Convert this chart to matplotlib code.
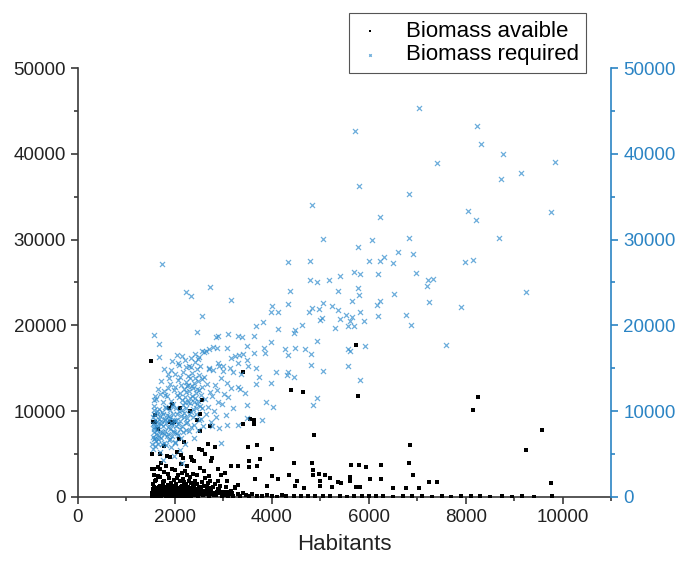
import matplotlib.pyplot as plt
from matplotlib.ticker import MultipleLocator

plt.rcParams['font.family'] = ['Liberation Sans', 'DejaVu Sans']

# (habitants, biomass) pairs
avail_pts = [
    (1510, 15800), (5740, 17700), (3400, 14500), (4390, 12400), (4650, 12200),
    (5770, 11700), (8250, 11600), (8150, 10100), (9570, 7800), (4860, 7200),
    (9240, 5500), (6840, 6000), (6830, 3900), (9750, 1600), (6920, 2600),
    (7030, 1000), (7240, 1700), (7410, 1750), (6770, 1000), (6490, 1000),
    (6260, 3700), (6260, 2100), (6020, 2100), (5790, 3700), (5950, 3500),
    (5630, 3700), (5610, 2300), (5610, 1900), (5740, 1200), (5820, 1200),
    (5360, 1700), (5420, 1650), (5250, 1200), (5200, 2250), (5100, 2500),
    (4970, 2700), (4990, 1900), (5000, 1250), (4840, 3100), (4820, 4000),
    (4840, 2500), (4670, 1000), (4510, 1900), (4480, 1250), (4450, 4000),
    (4350, 2600), (4130, 2100), (4010, 2400), (4000, 5600), (3900, 1250),
    (3750, 4400), (3700, 6000), (3700, 3600), (3660, 2100), (3640, 8900),
    (3550, 9100), (3640, 8500), (3410, 8500), (3510, 5800), (3530, 4200),
    (3520, 3500), (3310, 3600), (3160, 3600), (3030, 2800), (2960, 2500),
    (3070, 1900), (3300, 1400), (3250, 1200), (2880, 1900), (2760, 4500),
    (2750, 4200), (2820, 5800), (2690, 6200), (2730, 8200), (2560, 11250),
    (2520, 9700), (2520, 7700), (2450, 9000), (2310, 10000), (2110, 10400),
    (1870, 10400), (1950, 10800), (1600, 9500), (1550, 8750), (1600, 8750),
    (1910, 8750), (1980, 8700), (1940, 8600), (1660, 7900), (2080, 6700),
    (2180, 6400), (1770, 5900), (2040, 5200), (2120, 4900), (2160, 4500),
    (2340, 4700), (2400, 4200), (2500, 5600), (2560, 5400), (2620, 5000),
    (1530, 5000), (1690, 5000), (1830, 4800), (1520, 3300), (1580, 3300),
    (1650, 3500), (1720, 3900),
    (1520, 100), (1530, 400), (1540, 900), (1550, 1500), (1560, 200),
    (1570, 700), (1580, 1200), (1590, 50), (1600, 1800), (1610, 300),
    (1620, 600), (1630, 1000), (1640, 150), (1650, 2400), (1660, 500),
    (1670, 800), (1680, 250), (1690, 1300), (1700, 3300), (1710, 100),
    (1720, 650), (1730, 950), (1740, 400), (1750, 1700), (1760, 200),
    (1770, 2900), (1780, 700), (1790, 350), (1800, 1100), (1810, 3600),
    (1820, 50), (1830, 850), (1840, 450), (1850, 1400), (1860, 150),
    (1870, 2200), (1880, 600), (1890, 300), (1900, 900), (1910, 4600),
    (1920, 200), (1930, 1600), (1940, 750), (1950, 400), (1960, 1200),
    (1970, 100), (1980, 2000), (1990, 550), (2000, 3100), (2010, 250),
    (2020, 800), (2030, 1500), (2040, 50), (2050, 1000), (2060, 350),
    (2070, 2600), (2080, 700), (2090, 150), (2100, 1900), (2110, 450),
    (2120, 3800), (2130, 900), (2140, 250), (2150, 1300), (2160, 600),
    (2170, 2100), (2180, 100), (2190, 1700), (2200, 500), (2210, 3000),
    (2220, 800), (2230, 200), (2240, 1400), (2250, 2500), (2260, 650),
    (2270, 50), (2280, 1100), (2290, 1800), (2300, 350), (2310, 2300),
    (2320, 900), (2330, 150), (2340, 1600), (2350, 4300), (2360, 500),
    (2370, 1200), (2380, 2700), (2390, 250), (2400, 800), (2420, 1900),
    (2440, 400), (2460, 1500), (2480, 100), (2500, 1000), (2520, 3400),
    (2540, 600), (2560, 1700), (2580, 200), (2600, 1300), (2620, 2200),
    (2640, 450), (2660, 900), (2680, 1600), (2700, 100), (2720, 1900),
    (2740, 700), (2760, 300), (2780, 1200), (2800, 500), (2820, 1500),
    (2850, 200), (2880, 900), (2910, 400), (2940, 1300), (2970, 100),
    (3000, 600), (3030, 250), (3060, 1100), (3100, 50), (3130, 350),
    (3160, 700), (3200, 150), (3250, 1000), (3300, 300), (3350, 100),
    (3400, 450), (3460, 200), (3520, 80), (3600, 300), (3700, 150),
    (3800, 60), (3900, 250), (4000, 100), (4100, 30), (4200, 200),
    (4300, 80), (4450, 150), (4600, 50), (4750, 100), (4900, 40),
    (5050, 120), (5200, 60), (5400, 100), (5550, 30), (5700, 80),
    (5850, 50), (6000, 100), (6150, 40), (6300, 70), (6500, 30),
    (6700, 60), (6900, 40), (7100, 80), (7300, 30), (7500, 50),
    (7700, 20), (7900, 100), (8100, 40), (8300, 120), (8500, 30),
    (8750, 150), (8950, 30), (9150, 60), (9400, 20), (9780, 60),
    (1540, 300), (1560, 600), (1580, 150), (1600, 900), (1620, 400),
    (1640, 700), (1660, 100), (1680, 1100), (1700, 500), (1720, 200),
    (1740, 800), (1760, 1300), (1780, 300), (1800, 600), (1820, 1000),
    (1840, 200), (1860, 700), (1880, 1200), (1900, 400), (1920, 800),
    (1940, 100), (1960, 500), (1980, 1300), (2000, 250), (2020, 1100),
    (2040, 600), (2060, 900), (2080, 200), (2100, 500), (2120, 1200),
    (2140, 700), (2160, 100), (2180, 1000), (2200, 1500), (2220, 350),
    (2240, 650), (2260, 1200), (2280, 300), (2300, 900), (2320, 500),
    (2340, 100), (2360, 1000), (2380, 600), (2400, 1400), (2420, 200),
    (2440, 900), (2460, 550), (2500, 300), (2540, 1200), (2580, 700),
    (2620, 300), (2660, 1100), (2700, 600), (2750, 1000), (2800, 200),
    (2860, 600), (2920, 900), (2990, 300), (3080, 600), (3180, 400),
    (1560, 2600), (1620, 2000), (1700, 2300), (1780, 1900), (1850, 2700),
    (1950, 3200), (2050, 2200), (2150, 2800), (2250, 3600), (2450, 2600),
    (2600, 3000), (2700, 2400), (2900, 3200),
]

required_pts = [
    (7030, 45300), (5720, 42600), (8240, 43200), (8310, 41100), (8770, 40000),
    (7410, 38900), (9830, 39000), (9140, 37700), (8720, 37100), (5790, 36250),
    (6830, 35250), (4830, 34000), (8040, 33300), (9750, 33200), (8200, 32300),
    (6240, 32600), (5050, 30100), (6060, 30000), (6830, 30200), (8690, 30200),
    (5770, 29100), (6910, 28300), (6610, 28500), (6310, 28000), (6240, 27500),
    (6000, 27500), (6490, 27300), (4340, 27400), (4790, 27500), (7990, 27400),
    (8150, 27600), (1740, 27100), (6980, 26100), (5700, 26200), (5820, 25950),
    (6180, 26000), (5410, 25700), (5170, 25300), (4780, 25300), (4940, 25100),
    (7210, 25300), (7330, 25400), (7190, 24600), (2730, 24500), (5770, 24300),
    (9250, 23900), (2240, 23900), (2340, 23400), (5360, 24000), (4380, 24000),
    (5790, 23500), (6520, 23600), (3150, 23000), (7240, 22700), (5660, 22800),
    (5060, 22600), (4340, 22500), (6230, 22800), (6170, 22400), (4000, 22200),
    (4820, 22000), (5250, 22200), (5370, 21750), (7900, 22100), (4970, 21900),
    (3990, 21500), (4120, 21500), (5810, 21500), (4770, 21500), (6180, 21100),
    (6770, 21250), (2550, 21100), (5530, 21250), (5660, 21000), (5400, 20700),
    (5030, 20800), (4990, 20600), (5620, 20500), (5910, 20500), (3820, 20400),
    (4630, 20000), (6860, 20000), (3680, 19900), (5310, 19700), (5570, 19900),
    (5690, 19900), (4130, 19600), (4480, 19400), (4460, 19100), (2450, 19200),
    (1580, 18900), (2850, 18600), (2900, 18750), (3090, 18950), (3310, 18800),
    (3630, 18750), (3390, 18600), (4940, 18200), (3990, 18000), (1680, 17800),
    (7600, 17700), (5920, 17600), (3480, 17600), (2790, 17500), (3080, 17300),
    (3840, 17400), (4270, 17200), (4480, 17400), (4690, 17200), (5560, 17200),
    (5610, 16950), (2560, 16950), (3640, 16800), (3850, 16800), (3320, 16500),
    (4330, 16500), (4800, 16600), (1680, 16250), (2140, 16400), (3240, 16400),
    (2500, 16300), (3490, 16000), (4810, 15400), (2070, 15600), (2300, 15200),
    (3500, 15200), (5570, 15200), (3680, 15000), (5050, 14700), (1780, 14900),
    (2910, 15200), (2700, 14900), (4080, 14500), (4340, 14600), (4310, 14250),
    (4450, 14000), (3740, 14000), (3360, 14300), (3990, 13300), (5820, 13600),
    (3670, 13200), (3310, 12800), (3450, 12100), (4940, 11500), (4850, 10700),
    (4020, 10500), (3490, 10700), (3870, 11000), (3800, 9000), (3490, 9200),
    (3070, 8400), (3310, 8400), (2950, 6250),
    (1530, 6200), (1540, 7000), (1545, 8500), (1550, 5600), (1555, 9300),
    (1560, 10600), (1565, 7600), (1570, 6700), (1575, 11300), (1580, 8100),
    (1590, 5900), (1600, 9000), (1605, 7300), (1610, 6500), (1620, 11400),
    (1625, 8700), (1630, 9700), (1640, 7800), (1650, 6100), (1660, 8300),
    (1670, 10200), (1680, 7100), (1690, 9400), (1700, 12000), (1700, 5200),
    (1710, 8800), (1720, 6800), (1730, 9900), (1740, 7500), (1750, 11000),
    (1760, 8200), (1770, 6300), (1780, 12300), (1790, 9100), (1800, 7700),
    (1800, 10500), (1810, 8600), (1820, 6000), (1830, 11700), (1840, 9500),
    (1850, 7300), (1860, 12700), (1870, 8900), (1880, 6600), (1890, 10100),
    (1900, 7900), (1900, 13200), (1910, 9200), (1920, 5800), (1930, 11200),
    (1940, 8400), (1950, 7100), (1960, 10800), (1970, 9600), (1980, 12400),
    (1990, 7600), (2000, 8800), (2000, 14300), (2010, 6400), (2020, 10300),
    (2030, 9000), (2040, 11900), (2050, 7400), (2060, 13600), (2070, 8500),
    (2080, 10000), (2090, 15400), (2100, 12100), (2110, 7900), (2120, 9400),
    (2130, 13000), (2140, 11300), (2150, 8200), (2160, 14600), (2170, 10700),
    (2180, 12600), (2190, 9800), (2200, 15900), (2210, 11600), (2220, 8600),
    (2230, 13400), (2240, 10400), (2250, 12900), (2260, 9200), (2270, 14100),
    (2280, 11000), (2290, 7700), (2300, 12300), (2310, 10900), (2320, 13800),
    (2330, 15100), (2340, 9900), (2350, 11800), (2360, 14400), (2370, 12700),
    (2380, 10200), (2390, 13300), (2400, 8400), (2410, 15700), (2420, 11500),
    (2430, 12100), (2440, 9600), (2450, 14900), (2460, 10800), (2470, 13500),
    (2480, 11200), (2490, 8900), (2500, 12500), (2510, 10600), (2520, 15200),
    (2530, 9100), (2540, 11900), (2550, 13700), (2560, 10300), (2570, 12800),
    (2580, 8200), (2600, 14000), (2620, 11400), (2640, 9700), (2660, 13100),
    (2680, 10500), (2700, 15000), (2720, 12200), (2740, 8700), (2760, 11700),
    (2780, 14800), (2800, 10000), (2820, 13000), (2840, 9300), (2860, 12400),
    (2880, 15600), (2900, 11100), (2920, 8000), (2950, 13900), (2980, 10800),
    (3000, 14700), (3020, 12000), (3050, 9500), (3080, 13300), (3100, 11600),
    (3130, 15000), (3160, 12700), (3200, 10300), (2760, 8300), (2600, 16900),
    (2480, 16100), (2700, 17200), (2860, 17400), (3000, 15300), (3150, 16200),
    (1850, 14300), (1950, 15800), (2050, 16500), (2650, 17000), (3200, 14600),
    (3300, 15600), (3350, 12600), (3400, 16700), (2400, 6900), (2200, 6200),
    (2100, 5500), (1980, 4800), (1760, 4300), (2150, 4000),
    (1560, 7900), (1580, 9600), (1600, 6900), (1620, 8300), (1640, 10000),
    (1660, 6700), (1680, 9100), (1700, 7600), (1720, 8500), (1740, 6100),
    (1760, 9700), (1780, 7300), (1800, 8900), (1820, 10400), (1840, 7100),
    (1860, 8100), (1880, 9400), (1900, 6700), (1920, 8600), (1940, 10600),
    (1960, 7700), (1980, 9000), (2000, 6300), (2020, 8200), (2040, 9700),
    (2060, 7200), (2080, 11600), (2100, 8800), (2120, 6800), (2140, 10100),
    (2160, 7500), (2180, 9300), (2200, 11100), (2220, 7800), (2240, 12200),
    (2260, 8700), (2280, 13000), (2300, 9700), (2320, 11500), (2340, 8100),
    (2360, 12900), (2380, 9300), (2400, 11100), (2420, 13800), (2440, 10400),
    (2460, 12600), (2480, 7800), (2500, 14200), (1570, 10100), (1590, 11700),
    (1650, 12600), (1720, 13500), (1790, 11900), (1870, 13800), (1930, 14800),
    (2010, 12800), (2110, 14000), (2230, 15100), (2340, 16200), (2420, 16600),
]

avail_x = [p[0] for p in avail_pts]
avail_y = [p[1] for p in avail_pts]
req_x = [p[0] for p in required_pts]
req_y = [p[1] for p in required_pts]

axis_grey = '#3a3a3a'
right_color = '#2b84c4'

fig = plt.figure(figsize=(6.77, 5.62), dpi=100)
ax = fig.add_axes([0.115, 0.116, 0.788, 0.763])
ax2 = ax.twinx()

s1 = ax.scatter(avail_x, avail_y, marker='s', s=11, color='black', linewidths=0,
                label='Biomass avaible', zorder=3)
s2 = ax2.scatter(req_x, req_y, marker='x', s=13, color='#2f8bcc', alpha=0.7,
                 linewidths=0.9, label='Biomass required')

for a in (ax, ax2):
    a.set_xlim(0, 11000)
    a.set_ylim(0, 50000)
    a.spines['top'].set_visible(False)

ax.xaxis.set_major_locator(MultipleLocator(2000))
ax.xaxis.set_minor_locator(MultipleLocator(1000))
ax.yaxis.set_major_locator(MultipleLocator(10000))
ax.yaxis.set_minor_locator(MultipleLocator(5000))
ax2.yaxis.set_major_locator(MultipleLocator(10000))
ax2.yaxis.set_minor_locator(MultipleLocator(5000))

ax.tick_params(which='major', length=5, width=1.2, labelsize=13.5,
               color=axis_grey, labelcolor='#222222')
ax.tick_params(which='minor', length=3, width=1.2, color=axis_grey)
ax.spines['left'].set_linewidth(1.2)
ax.spines['bottom'].set_linewidth(1.2)
ax.spines['left'].set_color(axis_grey)
ax.spines['bottom'].set_color(axis_grey)
ax.spines['right'].set_visible(False)

ax2.spines['left'].set_visible(False)
ax2.spines['bottom'].set_visible(False)
ax2.spines['right'].set_color(right_color)
ax2.spines['right'].set_linewidth(1.2)
ax2.tick_params(axis='y', which='major', length=5, width=1.2, colors=right_color,
                labelsize=13.5)
ax2.tick_params(axis='y', which='minor', length=3, width=1.2, colors=right_color)

ax.set_xlabel('Habitants', fontsize=16, labelpad=6, color='#222222')

leg = fig.legend(handles=[s1, s2], loc='upper right',
                 bbox_to_anchor=(0.866, 0.977), fontsize=16, fancybox=False,
                 edgecolor='#555555', framealpha=1, handlelength=1.2,
                 handletextpad=1.0, borderpad=0.35, labelspacing=0.12,
                 markerscale=0.5, borderaxespad=0)
leg.get_frame().set_linewidth(0.8)

fig.savefig('out.png', dpi=100)
